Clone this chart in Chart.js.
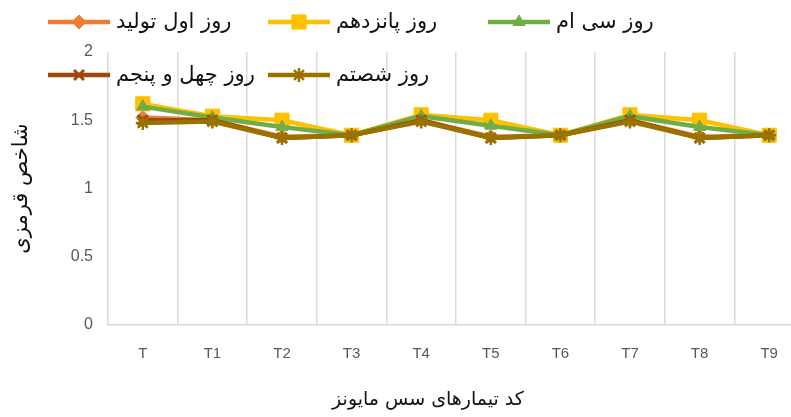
<!DOCTYPE html>
<html>
<head>
<meta charset="utf-8">
<script src="https://cdn.jsdelivr.net/npm/chart.js@4/dist/chart.umd.min.js"></script>
<style>
  html, body { margin: 0; padding: 0; background: #fff; overflow: hidden; }
  #wrap { position: relative; width: 820px; height: 417px; }
</style>
</head>
<body>
<div id="wrap"><canvas id="c"></canvas></div>
<script>
// Treatment codes (x axis)
const categories = ['T', 'T1', 'T2', 'T3', 'T4', 'T5', 'T6', 'T7', 'T8', 'T9'];

// Redness index per storage day
const day1  = [1.52, 1.50, 1.38, 1.39, 1.50, 1.38, 1.39, 1.50, 1.38, 1.39];
const day15 = [1.62, 1.53, 1.50, 1.39, 1.54, 1.50, 1.39, 1.54, 1.50, 1.39];
const day30 = [1.60, 1.52, 1.45, 1.39, 1.53, 1.46, 1.39, 1.53, 1.45, 1.39];
const day45 = [1.50, 1.50, 1.37, 1.39, 1.50, 1.37, 1.39, 1.50, 1.37, 1.39];
const day60 = [1.48, 1.49, 1.37, 1.39, 1.49, 1.37, 1.39, 1.49, 1.37, 1.39];

const seriesNames = ['روز اول تولید', 'روز پانزدهم', 'روز سی ام', 'روز چهل و پنجم', 'روز شصتم'];
const yTicks = [0, 0.5, 1, 1.5, 2];
const xTitle = 'کد تیمارهای سس مایونز';
const yTitle = 'شاخص قرمزی';

const styles = [
  { color: '#ED7D31', point: 'rectRot', radius: 7,  bw: 1 },
  { color: '#FFC000', point: 'rect',    radius: 10, bw: 1 },
  { color: '#70AD47', point: 'triangle',radius: 7,  bw: 1 },
  { color: '#9E480E', point: 'crossRot',radius: 7,  bw: 3 },
  { color: '#997300', point: 'star',    radius: 7,  bw: 2.5 }
];
const seriesData = [day1, day15, day30, day45, day60];

const datasets = seriesData.map((d, i) => ({
  label: seriesNames[i],
  data: d,
  borderColor: styles[i].color,
  backgroundColor: styles[i].color,
  pointStyle: styles[i].point,
  pointRadius: styles[i].radius,
  pointHoverRadius: styles[i].radius,
  pointBorderWidth: styles[i].bw,
  pointBorderColor: styles[i].color,
  pointBackgroundColor: styles[i].color,
  borderWidth: 4.5,
  tension: 0,
  order: 5 - i
}));

const PLOT_LEFT = 108, PLOT_TOP = 52, PLOT_BOTTOM = 325, PLOT_RIGHT = 804;
const W = 820, H = 417;

// Legend in a fixed two-row grid, plus the two axis titles
const decor = {
  id: 'decor',
  afterDraw(chart) {
    const ctx = chart.ctx;
    const pos = [
      { x: 48, y: 22 }, { x: 268, y: 22 }, { x: 488, y: 22 },
      { x: 48, y: 75 }, { x: 268, y: 75 }
    ];
    ctx.save();
    pos.forEach((p, i) => {
      const s = styles[i];
      ctx.strokeStyle = s.color;
      ctx.lineWidth = 4.5;
      ctx.lineCap = 'butt';
      ctx.beginPath();
      ctx.moveTo(p.x, p.y);
      ctx.lineTo(p.x + 62, p.y);
      ctx.stroke();
      ctx.fillStyle = s.color;
      ctx.strokeStyle = s.color;
      ctx.lineWidth = s.bw;
      Chart.helpers.drawPoint(ctx, { pointStyle: s.point, radius: s.radius, borderWidth: s.bw, rotation: 0 }, p.x + 31, p.y);
      ctx.fillStyle = '#111';
      ctx.font = '21px "DejaVu Sans"';
      ctx.textAlign = 'left';
      ctx.textBaseline = 'middle';
      ctx.fillText(seriesNames[i], p.x + 68, p.y + 1);
    });
    // x title
    ctx.fillStyle = '#111';
    ctx.font = '19px "DejaVu Sans"';
    ctx.textAlign = 'center';
    ctx.textBaseline = 'middle';
    ctx.fillText(xTitle, 428, 400);
    // y title
    ctx.font = '21px "DejaVu Sans"';
    ctx.translate(22, (PLOT_TOP + PLOT_BOTTOM) / 2);
    ctx.rotate(-Math.PI / 2);
    ctx.fillText(yTitle, 0, 0);
    ctx.restore();
  }
};

new Chart(document.getElementById('c'), {
  type: 'line',
  data: { labels: categories, datasets },
  options: {
    responsive: true,
    maintainAspectRatio: false,
    animation: false,
    devicePixelRatio: 1,
    layout: { padding: { top: PLOT_TOP, right: W - PLOT_RIGHT, left: 0, bottom: 0 } },
    plugins: { legend: { display: false }, tooltip: { enabled: false } },
    scales: {
      x: {
        offset: true,
        grid: { display: true, offset: true, color: '#d9d9d9', lineWidth: 1.5, drawTicks: false },
        border: { display: true, color: '#d9d9d9', width: 1.5 },
        ticks: { color: '#595959', font: { family: '"Liberation Sans"', size: 15 }, padding: 20 },
        afterFit(s) { s.height = H - PLOT_BOTTOM; }
      },
      y: {
        min: 0, max: 2,
        afterBuildTicks(s) { s.ticks = yTicks.map(v => ({ value: v })); },
        grid: { display: false, drawTicks: false },
        border: { display: false },
        ticks: {
          color: '#595959', font: { family: '"Liberation Sans"', size: 16 }, padding: 15,
          callback: v => String(v)
        },
        afterFit(s) { s.width = PLOT_LEFT; }
      }
    }
  },
  plugins: [decor]
});
</script>
</body>
</html>
